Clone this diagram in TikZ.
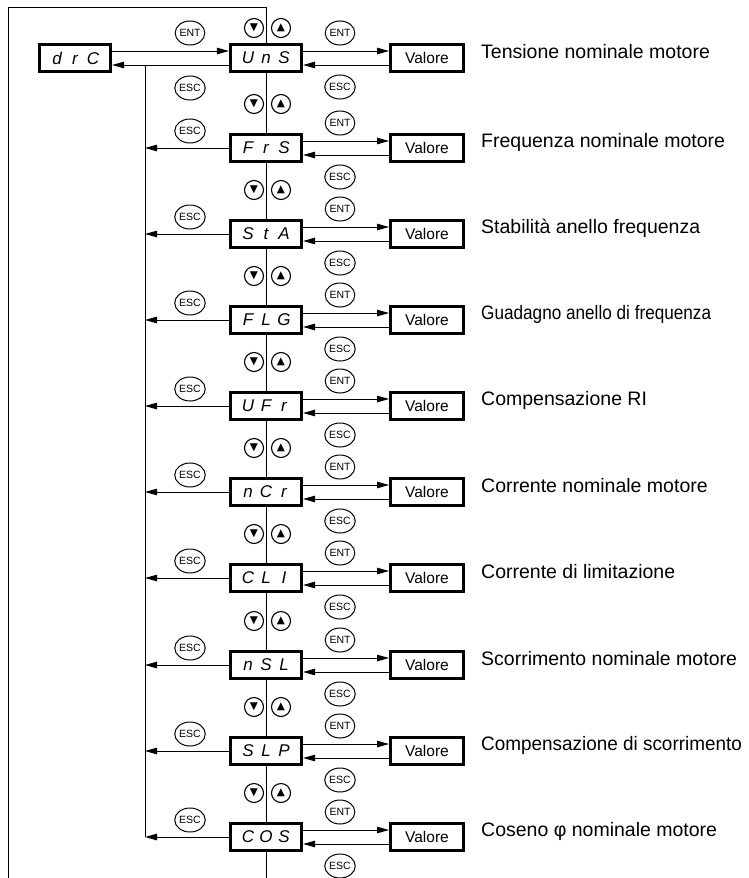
\documentclass[tikz,border=0pt]{standalone}
\usepackage{fontspec}
\usepackage{graphicx}
\setmainfont{Liberation Sans}
\newfontfamily\symfont{DejaVu Sans}
\usetikzlibrary{arrows.meta, shapes.geometric}
% three display characters on a fixed pitch
\newcommand{\segtext}[3]{\makebox[18pt]{#1}\makebox[18pt]{#2}\makebox[18pt]{#3}}

\begin{document}
\begin{tikzpicture}[
        x=1pt, y=-1pt,
        >={Triangle[length=12pt,width=6.5pt]},
        wire/.style  ={line width=1pt},
        disp/.style  ={draw, line width=3.2pt, fill=white, minimum width=71pt, minimum height=27pt,
                       inner sep=0pt, font=\fontsize{17}{17}\selectfont\itshape},
        valbox/.style={draw, line width=3pt, fill=white, minimum width=73pt, minimum height=27pt,
                       inner sep=0pt, font=\fontsize{15.5}{16}\selectfont},
        key/.style   ={draw, ellipse, line width=1pt, minimum width=27pt, minimum height=24pt,
                       inner sep=0pt, font=\fontsize{10.5}{11}\selectfont},
        nav/.style   ={draw, circle, line width=1.1pt, minimum size=19pt, inner sep=0pt,
                       font=\fontsize{10.5}{10.5}\selectfont\symfont},
        desc/.style  ={anchor=west, inner sep=0pt, font=\fontsize{19.5}{20}\selectfont}
    ]
    \useasboundingbox (0,0) rectangle (748,878);

    %% ===== Entry: drC menu =====
    \node[disp] (drc) at (75,58) {\segtext{d}{r}{C}};
    \node[key] (ent0) at (190,33) {ENT};
    \node[key] (esc0) at (190,88) {ESC};
    \node[nav] (dn0) at (254,28) {▼};
    \node[nav] (up0) at (281,28) {▲};

    %% ===== Parameter rows =====
    \foreach \code/\c/\txt [count=\i] in {
        UnS/58/Tensione nominale motore,
        FrS/148/Frequenza nominale motore,
        StA/234/Stabilità anello frequenza,
        FLG/320/{\scalebox{0.88}[1]{Guadagno anello di frequenza}},
        UFr/406/Compensazione RI,
        nCr/492/Corrente nominale motore,
        CLI/578/Corrente di limitazione,
        nSL/665/Scorrimento nominale motore,
        SLP/751/{\scalebox{0.97}[1]{Compensazione di scorrimento}},
        COS/837/Coseno φ nominale motore}{
        \node[disp] (r\i) at (266,\c) {\expandafter\segtext\code};
        \node[valbox] (v\i) at (427,\c) {Valore};
        \node[desc] (d\i) at (481,\c-6) {\txt};
        \node[key] (entr\i) at (340,\c-25) {ENT};
        \node[key] (escr\i) at (340,\c+29) {ESC};
        \draw[wire,->] ([yshift=7pt]r\i.east) -- ([yshift=7pt]v\i.west);
        \draw[wire,->] ([yshift=-7pt]v\i.west) -- ([yshift=-7pt]r\i.east);
        \ifnum\i>1
            \node[key] (escl\i) at (190,\c-17) {ESC};
            \node[nav] (dn\i) at (254,\c-44) {▼};
            \node[nav] (up\i) at (281,\c-44) {▲};
        \fi
    }

    %% ===== Frame and chain =====
    \coordinate (frameBL) at (8,878);
    \coordinate (frameTL) at (8,7);
    \coordinate (frameTR) at (266,7);
    \coordinate (chainEnd) at (266,878);
    \draw[wire] (frameBL) -- (frameTL) -- (frameTR) -- (r1.north);
    \foreach \i [evaluate=\i as \j using int(\i+1)] in {1,...,9}
        \draw[wire] (r\i.south) -- (r\j.north);
    \draw[wire] (r10.south) -- (chainEnd);

    %% ===== ENT / ESC between drC and UnS =====
    \draw[wire,->] ([yshift=7pt]drc.east) -- ([yshift=7pt]r1.west);
    \draw[wire,->] ([yshift=-7pt]r1.west) -- ([yshift=-7pt]drc.east);

    %% ===== ESC return column =====
    \coordinate (escTop) at (145,65);
    \draw[wire] (escTop) -- (escTop |- r10.west);
    \foreach \i in {2,...,10}
        \draw[wire,->] (r\i.west) -- (r\i.west -| escTop);

\end{tikzpicture}
\end{document}
